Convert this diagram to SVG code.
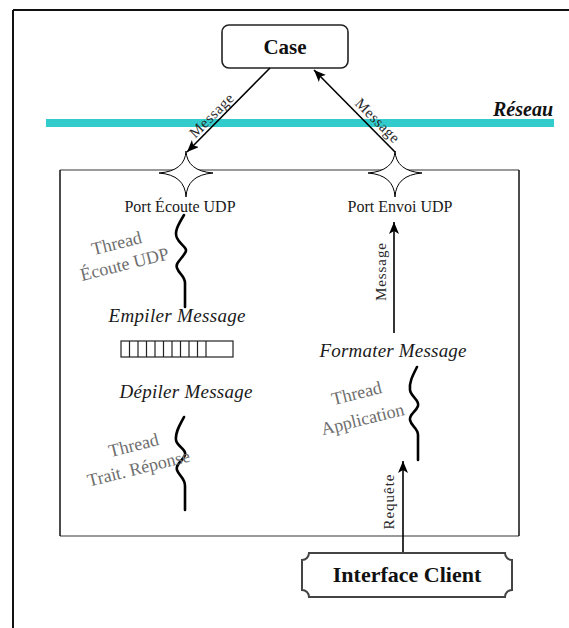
<svg xmlns="http://www.w3.org/2000/svg" width="569" height="628" viewBox="0 0 569 628">
<style>
.serif{font-family:"Liberation Serif","Times New Roman",serif}
.port{font-size:16px;fill:#1a1a1a}
.lbl{font-size:15px;fill:#2a2a2a}
.thr{font-size:18px;fill:#6e6e6e}
.act{font-size:19px;font-style:italic;fill:#1a1a1a}
.wave{fill:none;stroke:#000;stroke-width:2.6;stroke-linecap:round}
.arr{stroke:#000;stroke-width:1.6;fill:none}
.star{fill:#fff;stroke:#000;stroke-width:1}
</style>
<defs>
<marker id="ah" markerUnits="userSpaceOnUse" markerWidth="14" markerHeight="12" refX="12" refY="5" orient="auto">
<path d="M0,0 L12,5 L0,10 L3,5 z" fill="#000"/>
</marker>
</defs>
<rect width="569" height="628" fill="#fff"/>
<g id="frame">
<line x1="13" y1="10" x2="569" y2="10" stroke="#111" stroke-width="2"/>
<line x1="13" y1="10" x2="13" y2="628" stroke="#111" stroke-width="2"/>
</g>
<g id="reseau">
<line x1="46" y1="123" x2="554" y2="123" stroke="#33cccc" stroke-width="8"/>
<text class="serif" x="553" y="116" text-anchor="end" font-size="20" font-weight="bold" font-style="italic" fill="#111">Réseau</text>
</g>
<g id="container">
<line x1="60" y1="170" x2="519" y2="170" stroke="#9a9a9a" stroke-width="2"/>
<line x1="60" y1="536" x2="519" y2="536" stroke="#9a9a9a" stroke-width="2"/>
<line x1="60" y1="170" x2="60" y2="536" stroke="#111" stroke-width="1.5"/>
<line x1="519" y1="170" x2="519" y2="536" stroke="#111" stroke-width="1.5"/>
</g>
<g id="case">
<rect x="222" y="25" width="126" height="43" rx="7" fill="#fff" stroke="#222" stroke-width="1.6"/>
<text class="serif" x="285" y="54" text-anchor="middle" font-size="21" font-weight="bold" fill="#111">Case</text>
</g>
<g id="connectors">
<line class="arr" x1="270" y1="68" x2="187" y2="152" marker-end="url(#ah)"/>
<line class="arr" x1="395" y1="152" x2="314" y2="70" marker-end="url(#ah)"/>
<text class="serif lbl" x="215" y="119" text-anchor="middle" textLength="56" transform="rotate(-45 215 119)">Message</text>
<text class="serif lbl" x="374" y="124" text-anchor="middle" textLength="56" transform="rotate(45 374 124)">Message</text>
<line class="arr" x1="394" y1="333" x2="394" y2="222" marker-end="url(#ah)"/>
<text class="serif lbl" x="386" y="272" text-anchor="middle" textLength="58" transform="rotate(-90 386 272)">Message</text>
<line class="arr" x1="403" y1="553" x2="403" y2="461" marker-end="url(#ah)"/>
<text class="serif lbl" x="394" y="502" text-anchor="middle" textLength="55" transform="rotate(-90 394 502)">Requête</text>
</g>
<g id="port-ecoute">
<path class="star" d="M186,151 Q187,171 213,173 Q187,175 186,197 Q185,175 159,173 Q185,171 186,151 Z"/>
<text class="serif port" x="180" y="212" text-anchor="middle">Port Écoute UDP</text>
</g>
<g id="port-envoi">
<path class="star" d="M395,151 Q396,171 422,173 Q396,175 395,197 Q394,175 368,173 Q394,171 395,151 Z"/>
<text class="serif port" x="400" y="212" text-anchor="middle">Port Envoi UDP</text>
</g>
<g id="thread-ecoute">
<path class="wave" d="M184,215 C178,225 174,232 177,238 C180,245 189,248 185,253 C181,260 175,263 177,268 C179,274 185,276 185,283 L185,307"/>
<text class="serif thr" x="118" y="249" text-anchor="middle" transform="rotate(-14 118 249)">Thread</text>
<text class="serif thr" x="126" y="270" text-anchor="middle" transform="rotate(-14 126 270)">Écoute UDP</text>
</g>
<g id="empiler">
<text class="serif act" x="177" y="322" text-anchor="middle" textLength="137">Empiler Message</text>
</g>
<g id="queue" fill="none" stroke="#222" stroke-width="1.2">
<rect x="121" y="341" width="112" height="16" fill="#fff"/>
<path d="M129.5,341V357M138,341V357M146.5,341V357M155,341V357M163.5,341V357M172,341V357M180.5,341V357M189,341V357M197.5,341V357M206,341V357"/>
</g>
<g id="depiler">
<text class="serif act" x="186" y="398" text-anchor="middle" textLength="133">Dépiler Message</text>
</g>
<g id="thread-traitement">
<path class="wave" d="M184,417 C180,425 175,432 176,440 C177,447 187,449 185,455 C183,461 175,464 177,470 C179,476 185,478 185,486 L185,510"/>
<text class="serif thr" x="135" y="451" text-anchor="middle" transform="rotate(-14 135 451)">Thread</text>
<text class="serif thr" x="140" y="474" text-anchor="middle" transform="rotate(-14 140 474)">Trait. Réponse</text>
</g>
<g id="formater">
<text class="serif act" x="393" y="357" text-anchor="middle" textLength="147">Formater Message</text>
</g>
<g id="thread-application">
<path class="wave" d="M417,367 C413,375 409,382 410,390 C411,397 420,400 418,406 C416,412 409,414 410,420 C411,426 418,428 418,435 L418,460"/>
<text class="serif thr" x="358" y="399" text-anchor="middle" transform="rotate(-14 358 399)">Thread</text>
<text class="serif thr" x="364" y="425" text-anchor="middle" transform="rotate(-14 364 425)">Application</text>
</g>
<g id="interface-client">
<path d="M309,553 H505 A7,7 0 0 0 512,560 V590 A7,7 0 0 0 505,597 H309 A7,7 0 0 0 302,590 V560 A7,7 0 0 0 309,553 Z" fill="#fff" stroke="#444" stroke-width="2"/>
<text class="serif" x="407" y="582" text-anchor="middle" font-size="22" font-weight="bold" fill="#111">Interface Client</text>
</g>
</svg>
